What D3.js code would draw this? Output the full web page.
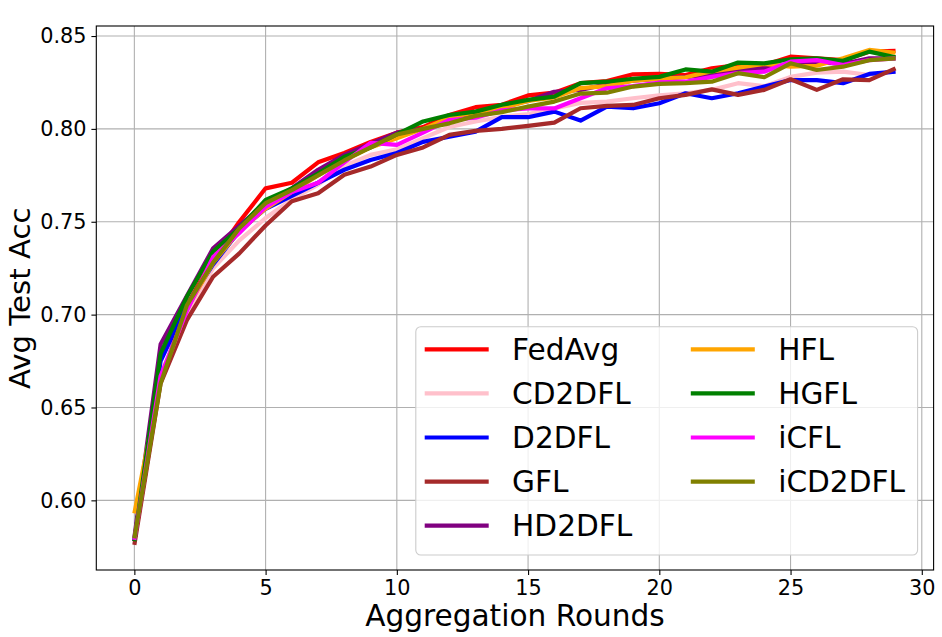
<!DOCTYPE html>
<html>
<head>
<meta charset="utf-8">
<script src="https://cdn.jsdelivr.net/npm/d3@7/dist/d3.min.js"></script>
<style>
  html, body { margin: 0; padding: 0; background: #fff; }
  svg { display: block; font-family: "DejaVu Sans", sans-serif; }
</style>
</head>
<body>
<svg id="chart" width="942" height="637"></svg>
<script>
const rounds = d3.range(0, 30);
const seriesNames = ["FedAvg", "CD2DFL", "D2DFL", "GFL", "HD2DFL", "HFL", "HGFL", "iCFL", "iCD2DFL"];
const seriesColors = ["#ff0000", "#ffc0cb", "#0000ff", "#a52a2a", "#800080", "#ffa500", "#008000", "#ff00ff", "#808000"];
const xTicks = [0, 5, 10, 15, 20, 25, 30];
const yTicks = [0.60, 0.65, 0.70, 0.75, 0.80, 0.85];

const fedAvg  = [0.578, 0.665, 0.705, 0.730, 0.750, 0.768, 0.771, 0.782, 0.787, 0.793, 0.798, 0.801, 0.8075, 0.8117, 0.813, 0.818, 0.8195, 0.8246, 0.8258, 0.8294, 0.8296, 0.829, 0.8326, 0.8344, 0.8344, 0.8389, 0.838, 0.837, 0.8416, 0.842];
const cd2dfl  = [0.578, 0.668, 0.700, 0.725, 0.740, 0.752, 0.762, 0.770, 0.780, 0.786, 0.789, 0.795, 0.801, 0.804, 0.8065, 0.808, 0.811, 0.814, 0.8147, 0.8165, 0.818, 0.8192, 0.821, 0.8246, 0.823, 0.828, 0.8303, 0.8308, 0.829, 0.831];
const d2dfl   = [0.578, 0.675, 0.705, 0.727, 0.745, 0.757, 0.764, 0.771, 0.778, 0.7833, 0.787, 0.793, 0.7958, 0.7985, 0.8063, 0.8063, 0.8093, 0.8045, 0.812, 0.8111, 0.8138, 0.8192, 0.8165, 0.8192, 0.8228, 0.8263, 0.8263, 0.8246, 0.8296, 0.8308];
const gfl     = [0.576, 0.663, 0.697, 0.7204, 0.733, 0.748, 0.761, 0.7654, 0.7753, 0.7797, 0.786, 0.790, 0.7968, 0.7989, 0.800, 0.8016, 0.8034, 0.8111, 0.8124, 0.8129, 0.8165, 0.8183, 0.8213, 0.8183, 0.821, 0.8267, 0.821, 0.8267, 0.8263, 0.8326];
const hd2dfl  = [0.580, 0.684, 0.710, 0.7357, 0.748, 0.760, 0.768, 0.778, 0.786, 0.792, 0.798, 0.800, 0.805, 0.809, 0.812, 0.815, 0.820, 0.821, 0.824, 0.826, 0.827, 0.828, 0.829, 0.832, 0.8326, 0.835, 0.836, 0.835, 0.838, 0.838];
const hfl     = [0.593, 0.665, 0.703, 0.728, 0.745, 0.757, 0.766, 0.775, 0.783, 0.790, 0.795, 0.800, 0.806, 0.809, 0.811, 0.815, 0.817, 0.822, 0.823, 0.826, 0.827, 0.8278, 0.831, 0.833, 0.835, 0.8335, 0.834, 0.838, 0.8425, 0.841];
const hgfl    = [0.578, 0.679, 0.7096, 0.734, 0.7465, 0.7617, 0.768, 0.776, 0.785, 0.790, 0.797, 0.804, 0.8075, 0.8093, 0.813, 0.8156, 0.8174, 0.8246, 0.8254, 0.827, 0.828, 0.832, 0.8308, 0.8357, 0.8353, 0.8375, 0.838, 0.8367, 0.8416, 0.8385];
const icfl    = [0.5787, 0.667, 0.702, 0.731, 0.744, 0.758, 0.766, 0.771, 0.782, 0.7925, 0.7914, 0.798, 0.8048, 0.806, 0.810, 0.811, 0.811, 0.8165, 0.8219, 0.823, 0.825, 0.8254, 0.828, 0.830, 0.8308, 0.8362, 0.837, 0.8344, 0.837, 0.838];
const icd2dfl = [0.5795, 0.663, 0.705, 0.728, 0.7465, 0.760, 0.767, 0.775, 0.783, 0.790, 0.797, 0.800, 0.803, 0.807, 0.809, 0.812, 0.8147, 0.819, 0.8195, 0.8228, 0.8242, 0.8246, 0.8254, 0.830, 0.8278, 0.8353, 0.8317, 0.8335, 0.837, 0.838];

const seriesValues = [fedAvg, cd2dfl, d2dfl, gfl, hd2dfl, hfl, hgfl, icfl, icd2dfl];

const plot = { left: 96.3, right: 933.6, top: 26, bottom: 570 };

const svg = d3.select("#chart");

const x = d3.scaleLinear().domain([-1.45, 30.45]).range([plot.left, plot.right]);
const y = d3.scaleLinear().domain([0.5625, 0.8554]).range([plot.bottom, plot.top]);

// gridlines
const grid = svg.append("g");
grid.selectAll("line.vx").data(xTicks).enter().append("line")
  .attr("x1", d => x(d)).attr("x2", d => x(d))
  .attr("y1", plot.top).attr("y2", plot.bottom)
  .attr("stroke", "#b0b0b0").attr("stroke-width", 1.1);
grid.selectAll("line.hy").data(yTicks).enter().append("line")
  .attr("x1", plot.left).attr("x2", plot.right)
  .attr("y1", d => y(d)).attr("y2", d => y(d))
  .attr("stroke", "#b0b0b0").attr("stroke-width", 1.1);

// lines
const clipId = "plotclip";
svg.append("clipPath").attr("id", clipId).append("rect")
  .attr("x", plot.left).attr("y", plot.top)
  .attr("width", plot.right - plot.left).attr("height", plot.bottom - plot.top);

const lineGen = d3.line().x((d, i) => x(rounds[i])).y(d => y(d));
const linesG = svg.append("g").attr("clip-path", `url(#${clipId})`);
seriesValues.forEach((vals, k) => {
  linesG.append("path")
    .datum(vals)
    .attr("d", lineGen)
    .attr("fill", "none")
    .attr("stroke", seriesColors[k])
    .attr("stroke-width", 4.2)
    .attr("stroke-linejoin", "round")
    .attr("stroke-linecap", "butt");
});

// axes
const xAxis = d3.axisBottom(x).tickValues(xTicks).tickFormat(d3.format("d")).tickSizeOuter(0).tickSize(4.9).tickPadding(4.9);
const yAxis = d3.axisLeft(y).tickValues(yTicks).tickFormat(d3.format(".2f")).tickSizeOuter(0).tickSize(4.9).tickPadding(4.9);

const gx = svg.append("g").attr("transform", `translate(0,${plot.bottom})`).call(xAxis);
const gy = svg.append("g").attr("transform", `translate(${plot.left},0)`).call(yAxis);
[gx, gy].forEach(g => {
  g.select(".domain").remove();
  g.attr("font-family", "DejaVu Sans");
  g.selectAll(".tick line").attr("stroke", "#000").attr("stroke-width", 1.1);
  g.selectAll(".tick text").attr("fill", "#000").style("font-size", "20.8px").style("font-family", "DejaVu Sans");
});

// spines
svg.append("rect")
  .attr("x", plot.left).attr("y", plot.top)
  .attr("width", plot.right - plot.left).attr("height", plot.bottom - plot.top)
  .attr("fill", "none").attr("stroke", "#000").attr("stroke-width", 1.1);

// axis labels
svg.append("text")
  .attr("x", (plot.left + plot.right) / 2).attr("y", 626)
  .attr("text-anchor", "middle")
  .style("font-size", "29.6px")
  .text("Aggregation Rounds");
svg.append("text")
  .attr("transform", `translate(29.5,298.3) rotate(-90)`)
  .attr("text-anchor", "middle")
  .style("font-size", "29.2px")
  .text("Avg Test Acc");

// legend
const leg = svg.append("g");
leg.append("rect")
  .attr("x", 415.8).attr("y", 326.7)
  .attr("width", 917.6 - 415.8).attr("height", 555 - 326.7)
  .attr("rx", 5).attr("ry", 5)
  .attr("fill", "#fff").attr("fill-opacity", 0.8)
  .attr("stroke", "#cccccc").attr("stroke-width", 1.1);

const rowsPerCol = 5;
const colX = [424.7, 690.8];
const handleLen = 64;
const textOff = 87.4;
const rowY0 = 349.3, rowStep = 44.1;
seriesNames.forEach((name, k) => {
  const col = Math.floor(k / rowsPerCol);
  const row = k % rowsPerCol;
  const cx = colX[col];
  const cy = rowY0 + row * rowStep;
  leg.append("line")
    .attr("x1", cx).attr("x2", cx + handleLen)
    .attr("y1", cy).attr("y2", cy)
    .attr("stroke", seriesColors[k]).attr("stroke-width", 4.2);
  leg.append("text")
    .attr("x", cx + textOff).attr("y", cy)
    .attr("dy", "0.36em")
    .style("font-size", "29.6px")
    .attr("fill", "#000")
    .text(name);
});
</script>
</body>
</html>
